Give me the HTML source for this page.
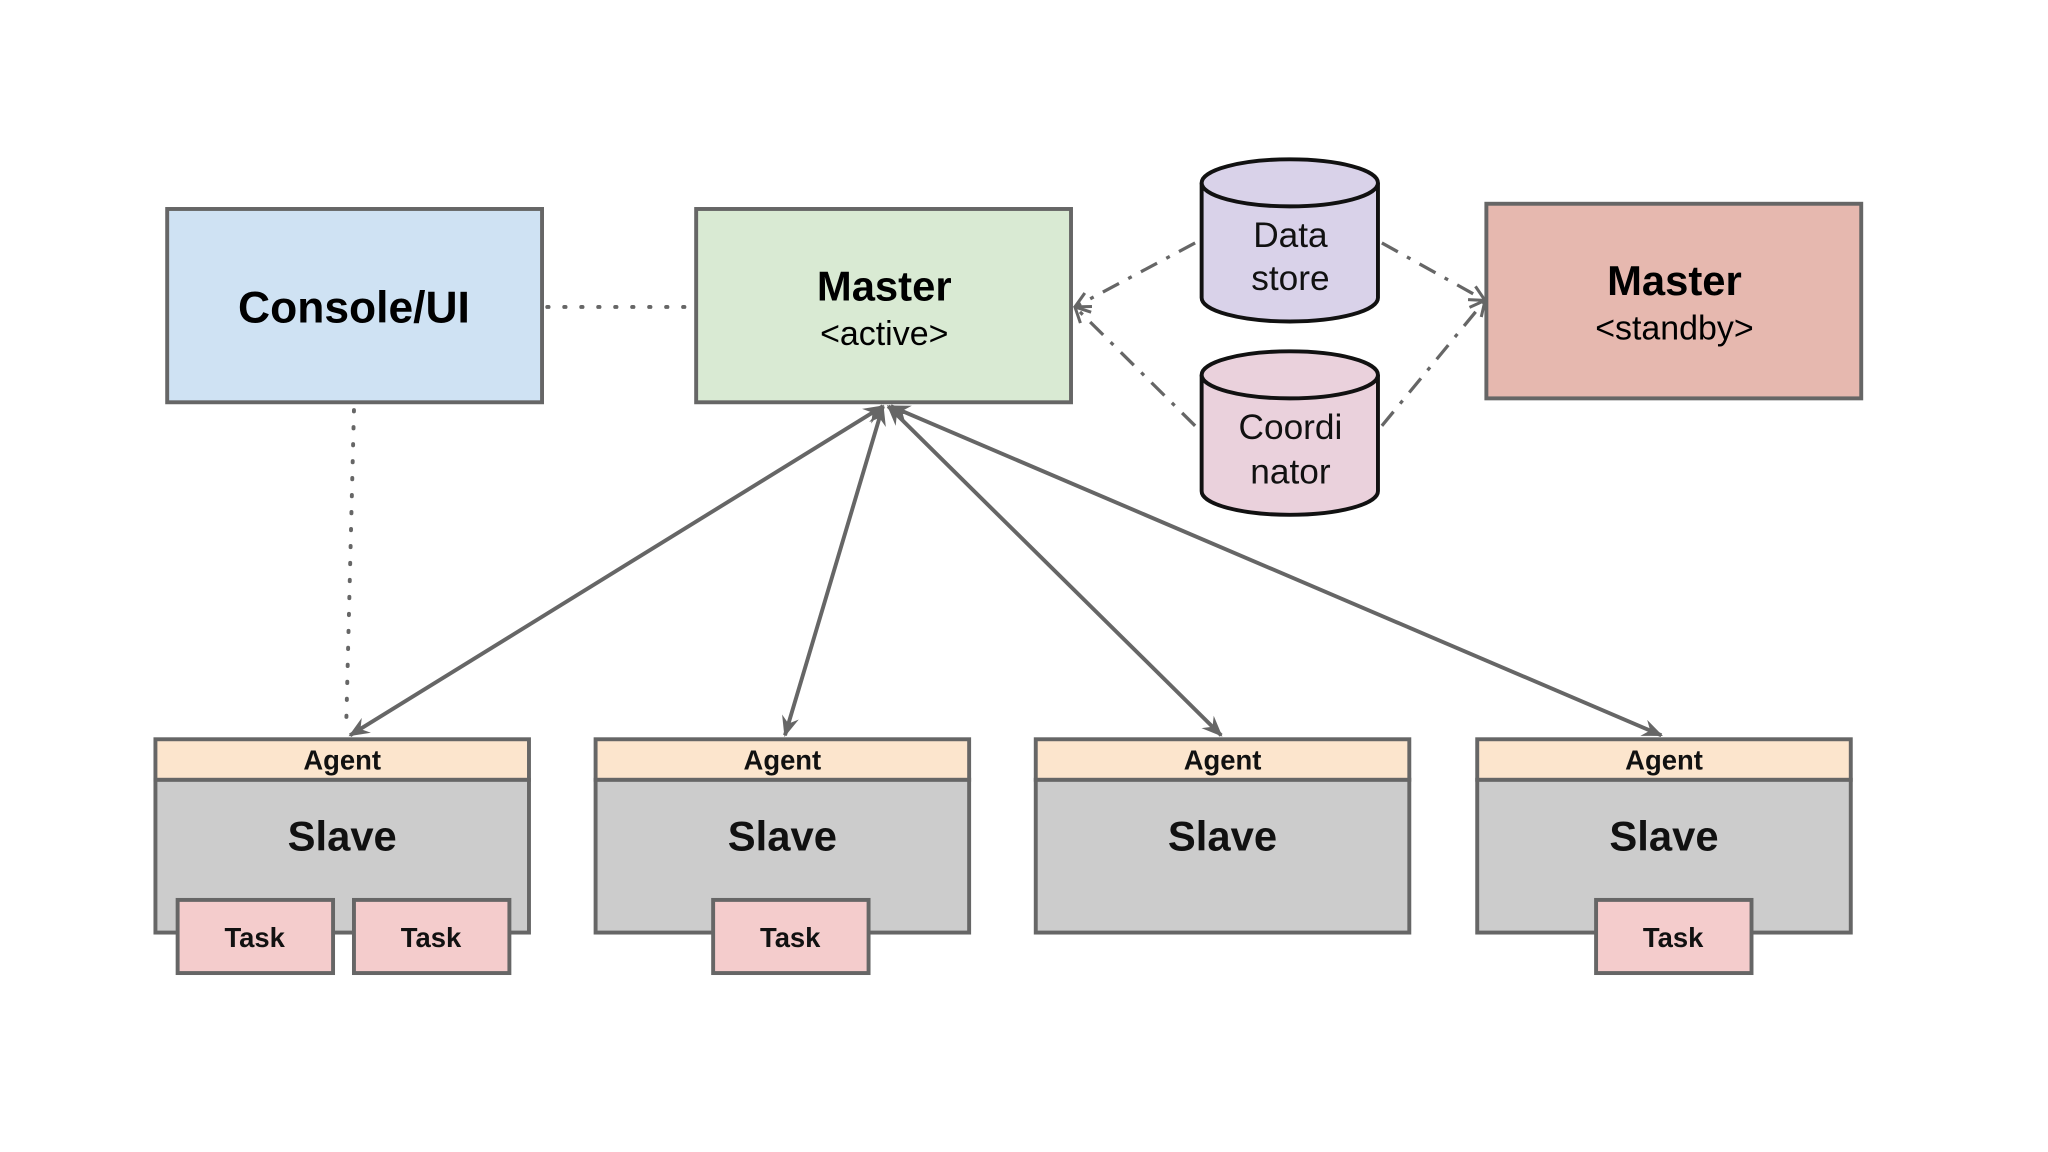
<!DOCTYPE html>
<html><head><meta charset="utf-8"><style>html,body{margin:0;padding:0;background:#fff;}svg{display:block}svg text{font-family:"Liberation Sans",Arial,sans-serif}</style></head>
<body>
<svg width="2048" height="1152" viewBox="0 0 1568 882" preserveAspectRatio="none" xmlns="http://www.w3.org/2000/svg">
<defs>
<marker id="ah" viewBox="0 0 12 12" refX="11" refY="6" markerWidth="16" markerHeight="16" orient="auto-start-reverse" markerUnits="userSpaceOnUse"><path d="M0,1 L12,6 L0,11 L4,6 z" fill="#666"/></marker>
<marker id="oa" viewBox="0 0 12 12" refX="11" refY="6" markerWidth="14" markerHeight="14" orient="auto" markerUnits="userSpaceOnUse"><path d="M1,1 L11,6 L1,11" fill="none" stroke="#666" stroke-width="2"/></marker>
</defs>
<rect width="1568" height="882" fill="#fff"/>
<g stroke="#666" stroke-width="3" fill="none">
<line x1="419" y1="235" x2="531" y2="235" stroke-dasharray="1,12" stroke-linecap="round"/>
<line x1="271" y1="314" x2="265" y2="558" stroke-dasharray="1,12" stroke-linecap="round"/>
<g stroke-dasharray="14,8,3,8" stroke-width="2.5">
<line x1="915" y1="186" x2="823" y2="235" marker-end="url(#oa)"/>
<line x1="915" y1="326" x2="823" y2="235" marker-end="url(#oa)"/>
<line x1="1058" y1="186" x2="1137" y2="230" marker-end="url(#oa)"/>
<line x1="1058" y1="326" x2="1137" y2="230" marker-end="url(#oa)"/>
</g>
<g stroke-width="3" marker-start="url(#ah)" marker-end="url(#ah)">
<line x1="676" y1="311" x2="268" y2="563"/>
<line x1="676" y1="311" x2="601" y2="563"/>
<line x1="680" y1="311" x2="935" y2="563"/>
<line x1="682" y1="311" x2="1272" y2="563"/>
</g>
</g>
<g stroke="#666" stroke-width="3">
<rect x="128" y="160" width="287" height="148" fill="#cfe2f3"/>
<rect x="533" y="160" width="287" height="148" fill="#d9ead3"/>
<rect x="1138" y="156" width="287" height="149" fill="#e6b8af"/>
</g>
<text x="271" y="247" font-size="34" font-weight="bold" text-anchor="middle">Console/UI</text>
<text x="677" y="230" font-size="32" font-weight="bold" text-anchor="middle">Master</text>
<text x="677" y="264" font-size="26" text-anchor="middle">&lt;active&gt;</text>
<text x="1282" y="226" font-size="32" font-weight="bold" text-anchor="middle">Master</text>
<text x="1282" y="260" font-size="26" text-anchor="middle">&lt;standby&gt;</text>
<g stroke="#111" stroke-width="3">
<path d="M920,140 L920,228 A67,18 0 0 0 1055,228 L1055,140" fill="#d9d2e9"/>
<ellipse cx="987.5" cy="140" rx="67.5" ry="18" fill="#d9d2e9"/>
<path d="M920,287 L920,376 A67,18 0 0 0 1055,376 L1055,287" fill="#ead1dc"/>
<ellipse cx="987.5" cy="287" rx="67.5" ry="18" fill="#ead1dc"/>
</g>
<g font-size="27" text-anchor="middle" fill="#111">
<text x="988" y="189">Data</text>
<text x="988" y="222">store</text>
<text x="988" y="336">Coordi</text>
<text x="988" y="370">nator</text>
</g>
<g stroke="#666" stroke-width="3">
<rect x="119" y="597" width="286" height="117" fill="#cccccc"/>
<rect x="119" y="566" width="286" height="31" fill="#fce5cd"/>
<rect x="456" y="597" width="286" height="117" fill="#cccccc"/>
<rect x="456" y="566" width="286" height="31" fill="#fce5cd"/>
<rect x="793" y="597" width="286" height="117" fill="#cccccc"/>
<rect x="793" y="566" width="286" height="31" fill="#fce5cd"/>
<rect x="1131" y="597" width="286" height="117" fill="#cccccc"/>
<rect x="1131" y="566" width="286" height="31" fill="#fce5cd"/>
<rect x="136" y="689" width="119" height="56" fill="#f4cccc"/>
<rect x="271" y="689" width="119" height="56" fill="#f4cccc"/>
<rect x="546" y="689" width="119" height="56" fill="#f4cccc"/>
<rect x="1222" y="689" width="119" height="56" fill="#f4cccc"/>
</g>
<g font-weight="bold" text-anchor="middle" fill="#111">
<g font-size="21">
<text x="262" y="589">Agent</text><text x="599" y="589">Agent</text><text x="936" y="589">Agent</text><text x="1274" y="589">Agent</text>
</g>
<g font-size="32">
<text x="262" y="651">Slave</text><text x="599" y="651">Slave</text><text x="936" y="651">Slave</text><text x="1274" y="651">Slave</text>
</g>
<g font-size="21">
<text x="195" y="725">Task</text><text x="330" y="725">Task</text><text x="605" y="725">Task</text><text x="1281" y="725">Task</text>
</g>
</g>
</svg>
</body></html>
